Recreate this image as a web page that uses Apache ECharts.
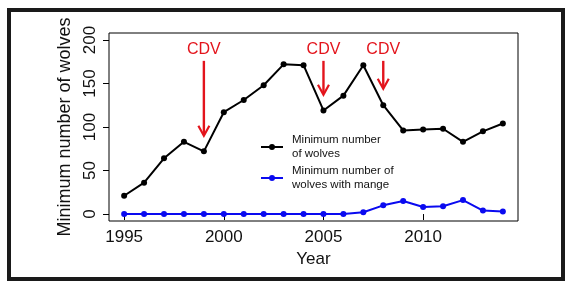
<!DOCTYPE html>
<html>
<head>
<meta charset="utf-8">
<script src="https://cdn.jsdelivr.net/npm/echarts@6/dist/echarts.min.js"></script>
<style>
  html, body { margin: 0; padding: 0; background: #fff; }
  #frame {
    position: absolute; left: 7px; top: 8px; width: 558px; height: 273px;
    box-sizing: border-box; border: 4px solid #1a1a1a;
  }
  #chart { position: absolute; left: 0; top: 0; width: 571px; height: 290px; }
</style>
</head>
<body>
<div id="frame"></div>
<div id="chart"></div>
<script>
const years = [1995, 1996, 1997, 1998, 1999, 2000, 2001, 2002, 2003, 2004,
  2005, 2006, 2007, 2008, 2009, 2010, 2011, 2012, 2013, 2014]
const wolves = [21, 36, 64, 83, 72, 117, 131, 148, 172, 171,
  119, 136, 171, 125, 96, 97, 98, 83, 95, 104]
const mange = [0, 0, 0, 0, 0, 0, 0, 0, 0, 0,
  0, 0, 2, 10, 15, 8, 9, 16, 4, 3]

const xTicks = [1995, 2000, 2005, 2010]
const yTicks = [0, 50, 100, 150, 200]

// CDV events: year, arrow start, arrow tip, label position
const cdvYears = [1999, 2005, 2008]
const cdvFrom = [176, 176, 176]
const cdvTo = [90, 137, 144]
const cdvLabelY = [189.5, 189.5, 189.5]

const font = 'Liberation Sans, Arial, sans-serif'
const red = '#e3141c'

const chart = echarts.init(document.getElementById('chart'))

const cdvData = cdvYears.map((y, i) => [y, cdvFrom[i], cdvTo[i], cdvLabelY[i]])

const renderArrow = (params, api) => {
  const top = api.coord([api.value(0), api.value(1)])
  const tip = api.coord([api.value(0), api.value(2)])
  const lab = api.coord([api.value(0), api.value(3)])
  return {
    type: 'group',
    children: [
      {
        type: 'line',
        shape: { x1: top[0], y1: top[1], x2: tip[0], y2: tip[1] - 1 },
        style: { stroke: red, lineWidth: 2.4 }
      },
      {
        type: 'polyline',
        shape: { points: [[tip[0] - 5.5, tip[1] - 10], [tip[0], tip[1]], [tip[0] + 5.5, tip[1] - 10]] },
        style: { stroke: red, lineWidth: 2.2, fill: null }
      },
      {
        type: 'text',
        x: lab[0],
        y: lab[1],
        style: {
          text: 'CDV', fill: red, font: '16px ' + font,
          align: 'center', verticalAlign: 'middle'
        }
      }
    ]
  }
}

const plain = (v) => String(v)

chart.setOption({
  animation: false,
  backgroundColor: 'transparent',
  textStyle: { fontFamily: font },
  grid: {
    left: 109, top: 33, width: 409, height: 188,
    show: true, borderColor: '#000', borderWidth: 1, backgroundColor: 'transparent'
  },
  legend: {
    orient: 'vertical',
    left: 260,
    top: 133,
    padding: 0,
    itemGap: 3,
    itemWidth: 22,
    itemHeight: 7.5,
    data: ['Minimum number\nof wolves', 'Minimum number of\nwolves with mange'],
    textStyle: {
      fontFamily: font, fontSize: 11.5, lineHeight: 14, color: '#111',
      padding: [0, 0, 0, 4]
    }
  },
  xAxis: {
    type: 'value',
    min: 1994.24,
    max: 2014.76,
    name: 'Year',
    nameLocation: 'middle',
    nameGap: 30,
    nameTextStyle: { fontFamily: font, fontSize: 17, color: '#111' },
    axisLine: { show: false },
    splitLine: { show: false },
    axisTick: {
      show: true, length: 6, customValues: xTicks,
      lineStyle: { color: '#000', width: 1 }
    },
    axisLabel: {
      customValues: xTicks, fontSize: 17, color: '#111', margin: 8,
      fontFamily: font, formatter: plain
    }
  },
  yAxis: {
    type: 'value',
    min: -8,
    max: 208,
    name: 'Minimum number of wolves',
    nameLocation: 'middle',
    nameRotate: 90,
    nameGap: 35,
    nameTextStyle: { fontFamily: font, fontSize: 18, color: '#111' },
    axisLine: { show: false },
    splitLine: { show: false },
    axisTick: {
      show: true, length: 6, customValues: yTicks,
      lineStyle: { color: '#000', width: 1 }
    },
    axisLabel: {
      customValues: yTicks, rotate: 90, fontSize: 17, color: '#111', margin: 10,
      fontFamily: font, formatter: plain
    }
  },
  series: [
    {
      name: 'Minimum number\nof wolves',
      type: 'line',
      symbol: 'circle',
      symbolSize: 6,
      color: '#000',
      lineStyle: { width: 2, color: '#000' },
      data: years.map((y, i) => [y, wolves[i]])
    },
    {
      name: 'Minimum number of\nwolves with mange',
      type: 'line',
      symbol: 'circle',
      symbolSize: 6,
      color: '#0a0af0',
      lineStyle: { width: 2, color: '#0a0af0' },
      data: years.map((y, i) => [y, mange[i]])
    },
    {
      name: 'CDV',
      type: 'custom',
      renderItem: renderArrow,
      data: cdvData,
      silent: true
    }
  ]
})
</script>
</body>
</html>
